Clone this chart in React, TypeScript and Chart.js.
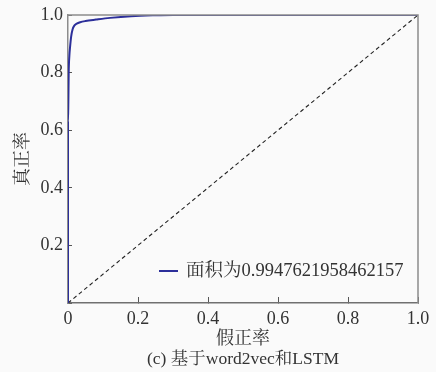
import React, { useEffect, useRef } from "react";
import { Chart, registerables } from "chart.js";

Chart.register(...registerables);

const fpr = [0, 0, 0.001, 0.002, 0.004, 0.006, 0.009, 0.013, 0.018, 0.025, 0.035, 0.05, 0.08, 0.12, 0.18, 0.25, 0.3, 1];
const tpr = [0, 0.63, 0.7, 0.8, 0.86, 0.89, 0.925, 0.95, 0.963, 0.97, 0.975, 0.979, 0.984, 0.99, 0.996, 0.999, 1, 1];
const diagX = [0, 1];
const diagY = [0, 1];
const rocLabel = "面积为0.9947621958462157";
const xTitle = "假正率";
const yTitle = "真正率";
const caption = "(c) 基于word2vec和LSTM";

const FONT = "'Liberation Serif', 'Times New Roman', 'Noto Serif CJK SC', 'Noto Sans CJK SC', serif";
const TEXT = "#333333";
const BLUE = "#2c2f9a";

const framePlugin = {
  id: "frame",
  afterDatasetsDraw(chart: any) {
    const { ctx, chartArea: a } = chart;
    ctx.save();
    ctx.strokeStyle = "#8c8c8c";
    ctx.lineWidth = 1.5;
    ctx.beginPath();
    ctx.moveTo(a.left, a.top);
    ctx.lineTo(a.right, a.top);
    ctx.lineTo(a.right, a.bottom);
    ctx.stroke();
    ctx.restore();
  },
};

const legendPlugin = {
  id: "innerLegend",
  afterDraw(chart: any) {
    const { ctx, chartArea: a } = chart;
    const ds = chart.data.datasets[0];
    const x0 = a.right - 259;
    const y0 = a.bottom - 32;
    ctx.save();
    ctx.strokeStyle = ds.borderColor;
    ctx.lineWidth = 2;
    ctx.beginPath();
    ctx.moveTo(x0, y0);
    ctx.lineTo(x0 + 19, y0);
    ctx.stroke();
    ctx.fillStyle = TEXT;
    ctx.font = `18.5px ${FONT}`;
    ctx.textBaseline = "middle";
    ctx.textAlign = "left";
    ctx.fillText(ds.label, x0 + 27, y0);
    ctx.restore();
  },
};

const noPad = (s: any) => {
  s.paddingLeft = 0;
  s.paddingRight = 0;
  s.paddingTop = 0;
  s.paddingBottom = 0;
};

export default function App() {
  const ref = useRef<HTMLCanvasElement | null>(null);
  useEffect(() => {
    document.body.style.margin = "0";
    document.body.style.background = "#fafafa";
    const chart = new Chart(ref.current as HTMLCanvasElement, {
      type: "line",
      data: {
        datasets: [
          {
            label: rocLabel,
            data: fpr.map((x, i) => ({ x, y: tpr[i] })),
            borderColor: BLUE,
            borderWidth: 2,
            pointRadius: 0,
            cubicInterpolationMode: "monotone",
            fill: false,
          },
          {
            label: "diag",
            data: diagX.map((x, i) => ({ x, y: diagY[i] })),
            borderColor: "#222222",
            borderWidth: 1.1,
            borderDash: [4, 3],
            pointRadius: 0,
            fill: false,
          },
        ],
      },
      options: {
        responsive: false,
        animation: false,
        layout: { padding: { top: 15, right: 18, left: 0, bottom: 0 } },
        plugins: {
          legend: { display: false },
          tooltip: { enabled: false },
          title: {
            display: true,
            text: caption,
            position: "bottom",
            fullSize: false,
            color: TEXT,
            font: { family: FONT, size: 17.5, weight: "normal", lineHeight: 1.2 },
            padding: { top: 0, bottom: 2 },
          },
        },
        scales: {
          x: {
            type: "linear",
            min: 0,
            max: 1,
            afterFit: (s: any) => {
              s.height = 46;
              noPad(s);
            },
            border: { color: "#707070", width: 1.5 },
            grid: { drawOnChartArea: false, drawTicks: true, tickLength: -6, color: "#555555" },
            ticks: {
              stepSize: 0.2,
              padding: 11,
              color: TEXT,
              font: { family: FONT, size: 18 },
              maxRotation: 0,
              callback: (v: any) => (v === 0 ? "0" : Number(v).toFixed(1)),
            },
            title: {
              display: true,
              text: xTitle,
              color: TEXT,
              font: { family: FONT, size: 18 },
              padding: { top: 0, bottom: -1 },
            },
          },
          y: {
            type: "linear",
            min: 0,
            max: 1,
            afterFit: (s: any) => {
              s.width = 68;
              noPad(s);
            },
            border: { color: "#8c8c8c", width: 1.5 },
            grid: { drawOnChartArea: false, drawTicks: true, tickLength: -4, color: "#555555" },
            ticks: {
              stepSize: 0.2,
              padding: 9,
              color: TEXT,
              font: { family: FONT, size: 18 },
              callback: (v: any) => (v === 0 ? "" : Number(v).toFixed(1)),
            },
            title: {
              display: true,
              text: yTitle,
              color: TEXT,
              font: { family: FONT, size: 18 },
              padding: { top: 12, bottom: 0 },
            },
          },
        },
      } as any,
      plugins: [framePlugin, legendPlugin],
    });
    return () => chart.destroy();
  }, []);
  return (
    <div style={{ width: 436, height: 372, background: "#fafafa" }}>
      <canvas ref={ref} width={436} height={372} />
    </div>
  );
}
